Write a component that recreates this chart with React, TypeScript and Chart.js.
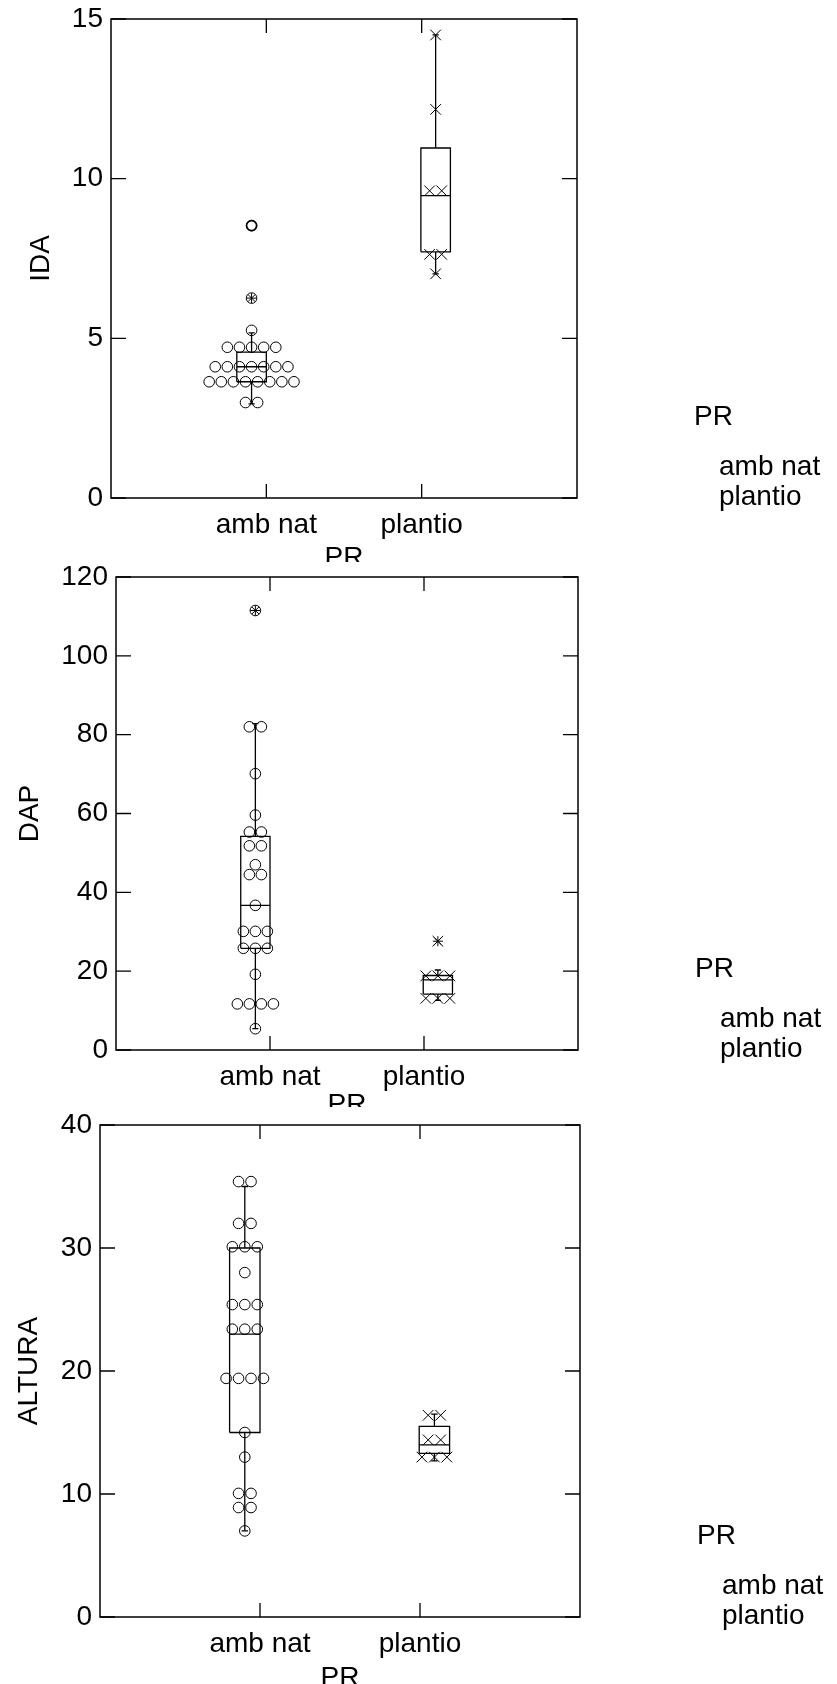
import React, { useEffect, useRef } from 'react';
import { Chart, registerables } from 'chart.js';

Chart.register(...registerables);

// ---------- data ----------
const categories = ['amb nat', 'plantio'];
const groupTitle = 'PR';

// IDA
const idaAmbNat = [8.53, 6.26, 5.25, 4.72, 4.72, 4.72, 4.72, 4.72, 4.11, 4.11, 4.11, 4.11, 4.11, 4.11, 4.11, 3.64, 3.64, 3.64, 3.64, 3.64, 3.64, 3.64, 3.64, 2.99, 2.99];
const idaPlantio = [14.5, 12.17, 9.62, 9.62, 7.63, 7.63, 7.02];
const idaQ1 = [3.64, 7.71];
const idaMedian = [4.11, 9.47];
const idaQ3 = [4.57, 10.96];
const idaLow = [2.95, 7.02];
const idaHigh = [5.17, 14.5];
const idaOutside = [[6.26], []];
const idaFarOutside = [[8.53], []];
const idaTicks = [0, 15, 5];

// DAP
const dapAmbNat = [111.5, 82, 82, 70.1, 59.6, 55.3, 55.3, 51.8, 51.8, 47.0, 44.5, 44.5, 36.7, 30.1, 30.1, 30.1, 25.8, 25.8, 25.8, 19.2, 11.7, 11.7, 11.7, 11.7, 5.4];
const dapPlantio = [27.6, 18.8, 18.8, 18.8, 13.1, 13.1, 13.1];
const dapQ1 = [25.8, 14.2];
const dapMedian = [36.7, 17.8];
const dapQ3 = [54.2, 18.9];
const dapLow = [5.4, 12.6];
const dapHigh = [82.8, 20.3];
const dapOutside = [[111.5], [27.6]];
const dapFarOutside = [[], []];
const dapTicks = [0, 120, 20];

// ALTURA
const altAmbNat = [35.4, 35.4, 32, 32, 30.1, 30.1, 30.1, 28, 25.4, 25.4, 25.4, 23.4, 23.4, 23.4, 19.4, 19.4, 19.4, 19.4, 15, 13, 10.05, 10.05, 8.9, 8.9, 7.0];
const altPlantio = [16.4, 16.4, 14.4, 14.4, 13.0, 13.0, 13.0];
const altQ1 = [15.0, 13.3];
const altMedian = [23.0, 14.0];
const altQ3 = [30.0, 15.5];
const altLow = [7.0, 12.7];
const altHigh = [35.0, 16.5];
const altOutside = [[], []];
const altFarOutside = [[], []];
const altTicks = [0, 40, 10];

// ---------- layout / style ----------
const W = 837;
const FONT = "'Liberation Sans', Arial, sans-serif";
const FS = 28;
const GROUP_CENTER = [0.905, 2.09];
const BOX_HALF = 0.095;
const CAP_HALF = 0.02;
const DOT_STEP = 0.078;

type Panel = {
  title: string;
  pts: number[][];
  q1: number[]; med: number[]; q3: number[]; lo: number[]; hi: number[];
  outside: number[][]; far: number[][];
  ticks: number[];
  canvasTop: number; height: number;
  area: { left: number; top: number; right: number; bottom: number };
  yTitleX: number; prOffset: number;
};

const panels: Panel[] = [
  {
    title: 'IDA', pts: [idaAmbNat, idaPlantio], q1: idaQ1, med: idaMedian, q3: idaQ3, lo: idaLow, hi: idaHigh,
    outside: idaOutside, far: idaFarOutside, ticks: idaTicks,
    canvasTop: 0, height: 562, area: { left: 111, top: 19, right: 577, bottom: 498 }, yTitleX: 41, prOffset: 48,
  },
  {
    title: 'DAP', pts: [dapAmbNat, dapPlantio], q1: dapQ1, med: dapMedian, q3: dapQ3, lo: dapLow, hi: dapHigh,
    outside: dapOutside, far: dapFarOutside, ticks: dapTicks,
    canvasTop: 562, height: 545, area: { left: 116, top: 15, right: 578, bottom: 488 }, yTitleX: 30, prOffset: 43,
  },
  {
    title: 'ALTURA', pts: [altAmbNat, altPlantio], q1: altQ1, med: altMedian, q3: altQ3, lo: altLow, hi: altHigh,
    outside: altOutside, far: altFarOutside, ticks: altTicks,
    canvasTop: 1107, height: 577, area: { left: 100, top: 18, right: 580, bottom: 510 }, yTitleX: 29, prOffset: 49,
  },
];

function jitter(values: number[], center: number) {
  const counts = new Map<number, number>();
  values.forEach((v) => counts.set(v, (counts.get(v) || 0) + 1));
  const seen = new Map<number, number>();
  return values.map((v) => {
    const n = counts.get(v) as number;
    const k = seen.get(v) || 0;
    seen.set(v, k + 1);
    return { x: center + (k - (n - 1) / 2) * DOT_STEP, y: v };
  });
}

function boxPath(p: Panel, i: number) {
  const c = GROUP_CENTER[i];
  const l = c - BOX_HALF;
  const r = c + BOX_HALF;
  const gap = { x: c, y: null as any };
  return [
    { x: l, y: p.q1[i] }, { x: r, y: p.q1[i] }, { x: r, y: p.q3[i] }, { x: l, y: p.q3[i] }, { x: l, y: p.q1[i] }, gap,
    { x: l, y: p.med[i] }, { x: r, y: p.med[i] }, gap,
    { x: c, y: p.q3[i] }, { x: c, y: p.hi[i] }, gap,
    { x: c - CAP_HALF, y: p.hi[i] }, { x: c + CAP_HALF, y: p.hi[i] }, gap,
    { x: c, y: p.q1[i] }, { x: c, y: p.lo[i] }, gap,
    { x: c - CAP_HALF, y: p.lo[i] }, { x: c + CAP_HALF, y: p.lo[i] },
  ];
}

const framePlugin = {
  id: 'frame',
  afterDraw(chart: any, _args: any, opts: any) {
    const { ctx, chartArea: a, scales } = chart;
    const xs = scales.x;
    const ys = scales.y;
    ctx.save();
    ctx.strokeStyle = '#000';
    ctx.lineWidth = 1.5;
    ctx.strokeRect(a.left, a.top, a.right - a.left, a.bottom - a.top);
    ctx.beginPath();
    ctx.lineWidth = 1.3;
    ys.ticks.forEach((t: any) => {
      const py = ys.getPixelForValue(t.value);
      ctx.moveTo(a.left, py); ctx.lineTo(a.left + 15, py);
      ctx.moveTo(a.right - 15, py); ctx.lineTo(a.right, py);
    });
    [1, 2].forEach((v) => {
      const px = xs.getPixelForValue(v);
      ctx.moveTo(px, a.bottom); ctx.lineTo(px, a.bottom - 14);
      ctx.moveTo(px, a.top); ctx.lineTo(px, a.top + 14);
    });
    ctx.stroke();

    ctx.fillStyle = '#000';
    ctx.font = `${FS}px ${FONT}`;
    // y title
    ctx.save();
    ctx.translate(opts.yTitleX, (a.top + a.bottom) / 2);
    ctx.rotate(-Math.PI / 2);
    ctx.textAlign = 'center';
    ctx.textBaseline = 'middle';
    ctx.fillText(opts.title, 0, 0);
    ctx.restore();
    // x title
    ctx.textAlign = 'center';
    ctx.textBaseline = 'alphabetic';
    ctx.fillText(groupTitle, (a.left + a.right) / 2, a.bottom + opts.prOffset + 20);
    // legend (text only)
    ctx.textAlign = 'left';
    ctx.fillText(groupTitle, a.right + 117, a.bottom - 73);
    ctx.fillText(categories[0], a.right + 142, a.bottom - 23);
    ctx.fillText(categories[1], a.right + 142, a.bottom + 7);
    ctx.restore();
  },
};

function PanelChart({ p }: { p: Panel }) {
  const ref = useRef<HTMLCanvasElement | null>(null);
  useEffect(() => {
    if (!ref.current) return;
    const line = { showLine: true, pointRadius: 0, borderColor: '#000', borderWidth: 1.3, fill: false, tension: 0, spanGaps: false };
    const datasets: any[] = [
      { ...line, data: boxPath(p, 0) },
      { ...line, data: boxPath(p, 1) },
      {
        data: jitter(p.pts[0], GROUP_CENTER[0]), pointStyle: 'circle', pointRadius: 5.3,
        borderColor: '#000', backgroundColor: 'rgba(0,0,0,0)', borderWidth: 1, showLine: false,
      },
      {
        data: jitter(p.pts[1], GROUP_CENTER[1]), pointStyle: 'crossRot', pointRadius: 7.5,
        borderColor: '#000', backgroundColor: 'rgba(0,0,0,0)', borderWidth: 1, showLine: false,
      },
      {
        data: p.outside.flatMap((vals, i) => vals.map((v) => ({ x: GROUP_CENTER[i], y: v }))),
        pointStyle: 'star', pointRadius: 5, borderColor: '#000', borderWidth: 1, showLine: false,
      },
      {
        data: p.far.flatMap((vals, i) => vals.map((v) => ({ x: GROUP_CENTER[i], y: v }))),
        pointStyle: 'circle', pointRadius: 5, borderColor: '#000', backgroundColor: 'rgba(0,0,0,0)', borderWidth: 1.6, showLine: false,
      },
    ];
    const font = { family: FONT, size: FS, lineHeight: 1 };
    const chart = new Chart(ref.current, {
      type: 'scatter',
      data: { datasets },
      plugins: [framePlugin],
      options: {
        animation: false,
        responsive: false,
        devicePixelRatio: 1,
        events: [],
        layout: { padding: { left: 0, top: p.area.top, right: W - p.area.right, bottom: 0 } },
        plugins: {
          legend: { display: false },
          tooltip: { enabled: false },
          frame: { title: p.title, yTitleX: p.yTitleX, prOffset: p.prOffset },
        } as any,
        scales: {
          x: {
            type: 'linear', min: 0, max: 3,
            grid: { display: false, drawTicks: false },
            border: { display: false },
            ticks: {
              stepSize: 1, autoSkip: false, maxRotation: 0, padding: 13, color: '#000', font,
              callback: (v: any) => (v === 1 ? categories[0] : v === 2 ? categories[1] : ''),
            },
            afterFit: (s: any) => {
              s.height = p.height - p.area.bottom;
              s.paddingLeft = 0; s.paddingRight = 0; s.paddingTop = 0; s.paddingBottom = 0;
            },
          },
          y: {
            type: 'linear', min: p.ticks[0], max: p.ticks[1],
            grid: { display: false, drawTicks: false },
            border: { display: false },
            ticks: { stepSize: p.ticks[2], padding: 8, color: '#000', font },
            afterFit: (s: any) => {
              s.width = p.area.left;
              s.paddingLeft = 0; s.paddingRight = 0; s.paddingTop = 0; s.paddingBottom = 0;
            },
          },
        },
      } as any,
    });
    return () => chart.destroy();
  }, [p]);
  return <canvas ref={ref} width={W} height={p.height} style={{ display: 'block', width: W, height: p.height }} />;
}

export default function App() {
  useEffect(() => {
    document.body.style.margin = '0';
  }, []);
  return (
    <div style={{ position: 'relative', width: W, height: 1684, overflow: 'hidden', background: '#fff' }}>
      {panels.map((p) => (
        <div key={p.title} style={{ position: 'absolute', left: 0, top: p.canvasTop, width: W, height: p.height, overflow: 'hidden' }}>
          <PanelChart p={p} />
        </div>
      ))}
    </div>
  );
}
